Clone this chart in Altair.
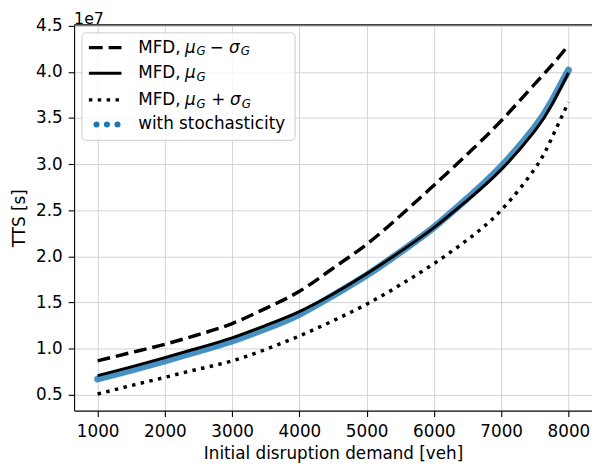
import altair as alt
import pandas as pd

# Initial disruption demand [veh]
demand = [1000, 1500, 2000, 2500, 3000, 3500, 4000, 4500, 5000, 5500, 6000, 6500, 7000, 7500, 7750, 8000]
# TTS in units of 1e7 s
tts_mu_minus_sigma = [0.865, 0.955, 1.045, 1.15, 1.27, 1.435, 1.62, 1.87, 2.13, 2.44, 2.77, 3.11, 3.47, 3.87, 4.07, 4.29]
tts_mu = [0.705, 0.80, 0.90, 1.005, 1.115, 1.25, 1.40, 1.59, 1.81, 2.05, 2.31, 2.61, 2.94, 3.36, 3.64, 3.99]
tts_mu_plus_sigma = [0.505, 0.597, 0.686, 0.776, 0.865, 0.99, 1.135, 1.30, 1.48, 1.69, 1.92, 2.18, 2.50, 2.95, 3.28, 3.67]
tts_stochastic = [0.668, 0.765, 0.865, 0.97, 1.08, 1.215, 1.37, 1.575, 1.795, 2.045, 2.315, 2.63, 2.975, 3.40, 3.68, 4.02]

x_ticks = [1000, 2000, 3000, 4000, 5000, 6000, 7000, 8000]
y_ticks = [0.5, 1.0, 1.5, 2.0, 2.5, 3.0, 3.5, 4.0, 4.5]

W, H = 525, 391
FONT = "DejaVu Sans"
FS = 17

df = pd.DataFrame({
    "demand": demand,
    "lo": tts_mu_minus_sigma,
    "mu": tts_mu,
    "hi": tts_mu_plus_sigma,
    "st": tts_stochastic,
})

xscale = alt.Scale(domain=[650, 8350], nice=False, zero=False)
yscale = alt.Scale(domain=[0.325, 4.51], nice=False, zero=False)

x_axis = alt.Axis(values=x_ticks, format="d", title="Initial disruption demand [veh]")
y_axis = alt.Axis(values=y_ticks, format=".1f", title="TTS [s]")


def xe():
    return alt.X("demand:Q", scale=xscale, axis=x_axis)


def ye(field):
    return alt.Y(f"{field}:Q", scale=yscale, axis=y_axis)


base = alt.Chart(df)
INTERP = "natural"

stoch = base.mark_line(color="#1f77b4", strokeWidth=7, opacity=0.82, strokeCap="round",
                       interpolate=INTERP).encode(x=xe(), y=ye("st"))
lo = base.mark_line(color="black", strokeWidth=3.5, strokeDash=[13, 6],
                    interpolate=INTERP).encode(x=xe(), y=ye("lo"))
mu = base.mark_line(color="black", strokeWidth=3, interpolate=INTERP).encode(x=xe(), y=ye("mu"))
hi = base.mark_line(color="black", strokeWidth=3.5, strokeDash=[3.5, 5.5],
                    interpolate=INTERP).encode(x=xe(), y=ye("hi"))

one = pd.DataFrame({"k": [0]})


def txt(s, x, y, size=FS, italic=False):
    return alt.Chart(one).mark_text(
        text=s, align="left", baseline="middle", font=FONT, fontSize=size,
        fontStyle="italic" if italic else "normal", color="black"
    ).encode(x=alt.value(x), y=alt.value(y))


top_spine = alt.Chart(one).mark_rule(color="black", strokeWidth=1.1).encode(
    x=alt.value(0), x2=alt.value(W), y=alt.value(0))

offset_label = txt("1e7", 0, -6, size=16)

legend_box = alt.Chart(one).mark_rect(
    fill="white", fillOpacity=0.8, stroke="#cccccc", strokeWidth=1, cornerRadius=4
).encode(x=alt.value(8), x2=alt.value(224), y=alt.value(8), y2=alt.value(117))

rows = [23, 49, 76, 101]
h1 = alt.Chart(one).mark_rule(color="black", strokeWidth=3.5, strokeDash=[14, 6]).encode(
    x=alt.value(15), x2=alt.value(48), y=alt.value(rows[0]))
h2 = alt.Chart(one).mark_rule(color="black", strokeWidth=3).encode(
    x=alt.value(15), x2=alt.value(48), y=alt.value(rows[1]))
h3 = alt.Chart(one).mark_rule(color="black", strokeWidth=3.5, strokeDash=[3.5, 5.5]).encode(
    x=alt.value(15), x2=alt.value(48), y=alt.value(rows[2]))
dots = [alt.Chart(one).mark_circle(color="#1f77b4", size=38, opacity=1).encode(
    x=alt.value(dx), y=alt.value(rows[3])) for dx in (22.7, 33.3, 44)]

SUB = 12
labels = []
# row 1: MFD, mu_G - sigma_G
labels += [txt("MFD,", 65, rows[0]), txt("μ", 112.5, rows[0], italic=True),
           txt("G", 124, rows[0] + 4, size=SUB, italic=True),
           txt("−", 137.5, rows[0]), txt("σ", 157, rows[0], italic=True),
           txt("G", 169, rows[0] + 4, size=SUB, italic=True)]
# row 2: MFD, mu_G
labels += [txt("MFD,", 65, rows[1]), txt("μ", 112.5, rows[1], italic=True),
           txt("G", 124, rows[1] + 4, size=SUB, italic=True)]
# row 3: MFD, mu_G + sigma_G
labels += [txt("MFD,", 65, rows[2]), txt("μ", 112.5, rows[2], italic=True),
           txt("G", 124, rows[2] + 4, size=SUB, italic=True),
           txt("+", 139, rows[2]), txt("σ", 158, rows[2], italic=True),
           txt("G", 170, rows[2] + 4, size=SUB, italic=True)]
labels += [txt("with stochasticity", 65, rows[3])]

chart = alt.layer(
    stoch, lo, mu, hi, top_spine, offset_label, legend_box, h1, h2, h3, *dots, *labels
).properties(
    width=W, height=H,
    autosize=alt.AutoSizeParams(type="none"),
    padding={"left": 67, "top": 14, "right": 0, "bottom": 54},
).configure_view(stroke=None).configure_axis(
    labelFont=FONT, labelFontSize=FS, labelColor="black",
    titleFont=FONT, titleFontSize=FS, titleFontWeight="normal", titleColor="black",
    domainColor="black", domainWidth=1.1, tickColor="black", tickWidth=1.1, tickSize=6,
    labelPadding=6, labelFlush=False, labelOverlap=False,
    gridColor="#d2d2d2", gridWidth=1,
).configure_axisY(titlePadding=7).configure_axisX(titlePadding=7, labelPadding=7)

chart.save("out.html", embed_options={"renderer": "svg", "actions": False})
